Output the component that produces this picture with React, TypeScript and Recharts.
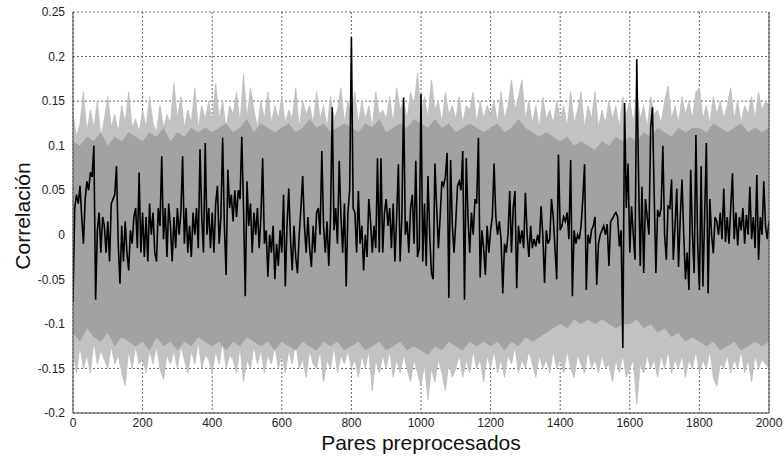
import React from "react";
import {
  ComposedChart,
  Area,
  Line,
  XAxis,
  YAxis,
  CartesianGrid,
  ReferenceLine,
} from "recharts";

// black trace, one value every 5 pairs (0..2000)
const blackSeries: number[] = [
  -0.075, 0.03, 0.045, 0.035, 0.055, 0.02, -0.01, 0.04, 0.06, 0.05, 0.07, 0.065, 0.1, -0.073, 0.005, 0.025, -0.02, 0.02, 0.01, -0.02,
  0.015, -0.03, 0.035, 0.04, 0.045, 0.077, -0.01, -0.055, 0.01, -0.03, 0.015, -0.02, -0.04, 0.005, -0.01, 0.02, 0.03, -0.015, 0.07, -0.02,
  0.025, -0.025, 0.02, -0.03, 0.035, 0.0, 0.025, -0.02, -0.03, 0.03, 0.01, 0.088, -0.005, 0.03, -0.025, 0.035, 0.01, -0.03, 0.02, -0.015,
  0.03, 0.0, 0.025, 0.088, -0.01, 0.03, -0.02, 0.01, -0.025, 0.025, 0.0, 0.03, -0.015, 0.096, 0.02, -0.02, 0.103, 0.0, 0.03, -0.015,
  0.025, -0.02, 0.035, 0.055, -0.01, 0.02, 0.109, 0.01, -0.045, 0.073, 0.03, 0.045, 0.015, 0.05, 0.02, 0.05, 0.04, 0.11, 0.03, -0.069,
  0.06, 0.01, 0.035, -0.02, 0.025, 0.0, 0.03, -0.015, 0.02, 0.086, -0.01, 0.005, -0.047, 0.0, -0.02, 0.01, -0.05, -0.01, -0.035, 0.005,
  -0.02, 0.045, -0.058, 0.01, 0.052, -0.005, -0.04, 0.01, -0.025, -0.043, 0.0, 0.03, 0.066, 0.01, -0.02, 0.02, -0.015, -0.036, 0.01, -0.02,
  0.025, 0.03, 0.0, 0.094, 0.01, -0.02, 0.015, -0.035, 0.02, 0.143, 0.005, 0.03, -0.01, 0.083, 0.02, -0.02, 0.035, -0.058, 0.025, 0.05,
  0.222, 0.03, 0.025, -0.02, 0.049, -0.01, 0.01, -0.04, 0.0, -0.025, 0.04, 0.015, -0.02, 0.01, -0.015, 0.086, -0.02, 0.086, -0.02, 0.025,
  0.04, 0.01, 0.03, -0.015, 0.035, -0.03, 0.02, 0.079, -0.03, 0.02, 0.154, 0.0, 0.015, -0.02, 0.03, 0.045, -0.01, 0.083, -0.025, -0.015,
  0.158, -0.03, 0.035, -0.035, 0.066, 0.0, -0.043, -0.05, 0.08, 0.03, -0.015, 0.02, 0.06, 0.055, 0.065, 0.092, -0.071, 0.084, 0.01, -0.02,
  0.015, 0.055, 0.06, 0.05, 0.094, -0.073, 0.086, 0.02, -0.02, 0.025, 0.0, 0.04, 0.035, 0.109, -0.048, 0.005, -0.015, -0.045, 0.01, -0.02,
  0.005, 0.02, 0.08, 0.02, 0.0, 0.015, -0.005, -0.066, -0.01, -0.02, 0.0, 0.049, -0.02, 0.03, 0.049, -0.06, 0.01, -0.01, 0.005, -0.015,
  0.047, 0.0, -0.025, 0.01, -0.015, -0.005, -0.013, 0.0, -0.01, 0.032, 0.0, -0.054, 0.005, -0.01, -0.005, 0.04, 0.02, -0.015, -0.05, 0.09,
  0.005, 0.01, 0.02, 0.015, 0.025, -0.005, 0.084, -0.069, 0.005, -0.01, 0.0, -0.005, 0.01, 0.04, 0.079, -0.062, 0.0, -0.01, 0.005, 0.01,
  0.02, -0.056, -0.01, 0.0, 0.005, 0.01, 0.0, 0.012, -0.035, 0.015, 0.018, 0.022, 0.025, 0.02, -0.013, 0.005, -0.127, 0.148, 0.03, 0.08,
  -0.02, 0.032, 0.0, -0.028, 0.197, 0.069, -0.035, 0.054, -0.043, 0.04, 0.02, 0.0, 0.12, 0.143, 0.047, -0.043, 0.028, 0.02, 0.03, 0.1,
  0.0, -0.028, 0.032, 0.03, 0.062, -0.028, 0.01, 0.052, -0.036, 0.02, 0.062, 0.0, -0.05, -0.02, -0.062, 0.073, 0.0, -0.043, 0.112, -0.01,
  -0.062, 0.077, -0.058, 0.02, 0.103, -0.066, 0.04, 0.0, -0.021, 0.02, 0.015, 0.0, 0.025, -0.005, 0.052, -0.008, 0.02, -0.01, 0.03, 0.069,
  -0.005, 0.025, -0.012, 0.02, 0.005, 0.03, -0.01, 0.022, 0.0, 0.054, -0.005, 0.02, -0.015, 0.067, -0.028, 0.02, 0.0, 0.06, 0.01, -0.005,
  0.015,
];

// outer (spiky) edges of the grey bundle, every 10 pairs
const envHigh: number[] = [
  0.135, 0.11, 0.125, 0.16, 0.115, 0.14, 0.12, 0.15, 0.11, 0.13,
  0.155, 0.12, 0.135, 0.115, 0.145, 0.125, 0.16, 0.12, 0.13, 0.115,
  0.14, 0.12, 0.155, 0.125, 0.115, 0.145, 0.12, 0.135, 0.125, 0.17,
  0.13, 0.155, 0.12, 0.14, 0.125, 0.165, 0.12, 0.145, 0.13, 0.15,
  0.125, 0.17, 0.13, 0.15, 0.12, 0.145, 0.135, 0.16, 0.125, 0.18,
  0.13, 0.165, 0.14, 0.12, 0.15, 0.13, 0.16, 0.125, 0.145, 0.13,
  0.155, 0.125, 0.14, 0.13, 0.165, 0.12, 0.15, 0.135, 0.145, 0.125,
  0.16, 0.13, 0.145, 0.12, 0.155, 0.13, 0.14, 0.165, 0.125, 0.15,
  0.135, 0.16, 0.125, 0.15, 0.13, 0.145, 0.12, 0.16, 0.135, 0.14,
  0.13, 0.155, 0.125, 0.165, 0.14, 0.15, 0.13, 0.16, 0.145, 0.182,
  0.135, 0.155, 0.13, 0.174, 0.14, 0.15, 0.125, 0.16, 0.135, 0.145,
  0.13, 0.155, 0.125, 0.145, 0.14, 0.16, 0.125, 0.15, 0.13, 0.145,
  0.135, 0.15, 0.125, 0.16, 0.13, 0.145, 0.174, 0.14, 0.155, 0.174,
  0.13, 0.15, 0.125, 0.145, 0.12, 0.155, 0.13, 0.14, 0.125, 0.15,
  0.13, 0.145, 0.12, 0.161, 0.125, 0.14, 0.16, 0.12, 0.145, 0.13,
  0.16, 0.12, 0.14, 0.125, 0.15, 0.13, 0.145, 0.12, 0.155, 0.135,
  0.15, 0.125, 0.16, 0.13, 0.145, 0.12, 0.155, 0.135, 0.14, 0.125,
  0.15, 0.167, 0.13, 0.145, 0.125, 0.155, 0.135, 0.15, 0.13, 0.16,
  0.165, 0.13, 0.145, 0.125, 0.155, 0.135, 0.15, 0.13, 0.145, 0.165,
  0.13, 0.15, 0.125, 0.145, 0.135, 0.155, 0.13, 0.16, 0.14, 0.15,
  0.145,
];

const envLow: number[] = [
  -0.13, -0.155, -0.125, -0.15, -0.135, -0.155, -0.12, -0.145, -0.13, -0.14,
  -0.15, -0.125, -0.145, -0.135, -0.155, -0.169, -0.13, -0.15, -0.125, -0.145,
  -0.14, -0.155, -0.13, -0.145, -0.125, -0.15, -0.162, -0.135, -0.145, -0.13,
  -0.15, -0.125, -0.14, -0.155, -0.13, -0.145, -0.12, -0.15, -0.135, -0.14,
  -0.155, -0.13, -0.145, -0.12, -0.15, -0.135, -0.14, -0.155, -0.125, -0.165,
  -0.14, -0.15, -0.125, -0.145, -0.13, -0.155, -0.135, -0.145, -0.125, -0.15,
  -0.135, -0.155, -0.13, -0.145, -0.12, -0.15, -0.14, -0.16, -0.13, -0.145,
  -0.15, -0.13, -0.165, -0.14, -0.15, -0.125, -0.155, -0.135, -0.145, -0.13,
  -0.15, -0.14, -0.16, -0.135, -0.15, -0.13, -0.175, -0.14, -0.155, -0.135,
  -0.15, -0.13, -0.16, -0.14, -0.155, -0.135, -0.15, -0.165, -0.14, -0.155,
  -0.17, -0.145, -0.185, -0.15, -0.165, -0.14, -0.155, -0.175, -0.145, -0.16,
  -0.15, -0.135, -0.16, -0.14, -0.155, -0.13, -0.15, -0.14, -0.165, -0.135,
  -0.15, -0.13, -0.155, -0.14, -0.16, -0.135, -0.145, -0.125, -0.155, -0.14,
  -0.15, -0.13, -0.145, -0.16, -0.135, -0.15, -0.14, -0.155, -0.13, -0.15,
  -0.14, -0.155, -0.13, -0.15, -0.16, -0.135, -0.145, -0.155, -0.13, -0.15,
  -0.14, -0.155, -0.135, -0.15, -0.145, -0.165, -0.14, -0.155, -0.135, -0.16,
  -0.15, -0.14, -0.19, -0.145, -0.155, -0.135, -0.15, -0.14, -0.16, -0.135,
  -0.15, -0.13, -0.155, -0.14, -0.15, -0.135, -0.16, -0.14, -0.15, -0.13,
  -0.155, -0.14, -0.15, -0.13, -0.16, -0.17, -0.145, -0.15, -0.135, -0.155,
  -0.14, -0.15, -0.13, -0.155, -0.14, -0.165, -0.135, -0.15, -0.14, -0.145,
  -0.15,
];

// dense core of the grey bundle, every 20 pairs
const coreHigh: number[] = [
  0.105, 0.1, 0.11, 0.105, 0.115, 0.1, 0.11, 0.105, 0.115, 0.11,
  0.105, 0.115, 0.11, 0.12, 0.105, 0.115, 0.11, 0.12, 0.115, 0.12,
  0.115, 0.12, 0.125, 0.115, 0.12, 0.13, 0.115, 0.125, 0.12, 0.115,
  0.12, 0.125, 0.115, 0.12, 0.13, 0.12, 0.125, 0.115, 0.12, 0.125,
  0.12, 0.115, 0.125, 0.12, 0.13, 0.115, 0.12, 0.125, 0.12, 0.13,
  0.125, 0.12, 0.13, 0.12, 0.125, 0.115, 0.12, 0.125, 0.12, 0.115,
  0.12, 0.125, 0.115, 0.12, 0.13, 0.12, 0.115, 0.11, 0.115, 0.11,
  0.105, 0.11, 0.1, 0.105, 0.1, 0.095, 0.105, 0.1, 0.11, 0.105,
  0.11, 0.105, 0.115, 0.11, 0.12, 0.115, 0.11, 0.12, 0.115, 0.12,
  0.12, 0.115, 0.125, 0.12, 0.115, 0.12, 0.125, 0.115, 0.12, 0.115,
  0.12,
];

const coreLow: number[] = [
  -0.11, -0.12, -0.105, -0.115, -0.12, -0.11, -0.125, -0.115, -0.12, -0.125,
  -0.12, -0.13, -0.115, -0.125, -0.12, -0.13, -0.12, -0.125, -0.115, -0.12,
  -0.125, -0.12, -0.13, -0.12, -0.125, -0.115, -0.12, -0.125, -0.12, -0.13,
  -0.12, -0.125, -0.13, -0.12, -0.125, -0.13, -0.12, -0.125, -0.12, -0.13,
  -0.125, -0.12, -0.13, -0.125, -0.12, -0.13, -0.125, -0.12, -0.13, -0.125,
  -0.13, -0.135, -0.125, -0.13, -0.12, -0.125, -0.13, -0.12, -0.125, -0.12,
  -0.125, -0.12, -0.13, -0.12, -0.125, -0.115, -0.12, -0.115, -0.11, -0.105,
  -0.1, -0.105, -0.095, -0.1, -0.095, -0.1, -0.095, -0.1, -0.105, -0.1,
  -0.1, -0.095, -0.105, -0.1, -0.11, -0.105, -0.115, -0.11, -0.12, -0.115,
  -0.12, -0.125, -0.12, -0.13, -0.125, -0.12, -0.13, -0.125, -0.12, -0.125,
  -0.12,
];

const xTicks = [0, 200, 400, 600, 800, 1000, 1200, 1400, 1600, 1800, 2000];
const yTicks = [-0.2, -0.15, -0.1, -0.05, 0, 0.05, 0.1, 0.15, 0.2, 0.25];

const blackData = blackSeries.map((v, i) => ({ x: i * 5, v }));
const envData = envHigh.map((h, i) => ({ x: i * 10, r: [envLow[i], h] }));
const coreData = coreHigh.map((h, i) => ({ x: i * 20, r: [coreLow[i], h] }));

const font = '"Liberation Sans", Arial, sans-serif';

export default function App() {
  return (
    <div style={{ position: "absolute", left: 0, top: 0, width: 784, height: 457, background: "#fff" }}>
      <ComposedChart
        width={784}
        height={457}
        margin={{ top: 12, right: 15, bottom: 0, left: 0 }}
      >
        <CartesianGrid stroke="#666" strokeDasharray="2 2" strokeWidth={1} />
        <XAxis
          dataKey="x"
          type="number"
          domain={[0, 2000]}
          ticks={xTicks}
          height={44}
          allowDataOverflow
          axisLine={{ stroke: "#444" }}
          tickLine={false}
          tickSize={3}
          tick={{ fontSize: 12, fill: "#222", fontFamily: font }}
        />
        <YAxis
          type="number"
          domain={[-0.2, 0.25]}
          ticks={yTicks}
          width={73}
          allowDataOverflow
          axisLine={{ stroke: "#444" }}
          tickLine={false}
          tick={{ fontSize: 12, fill: "#222", fontFamily: font }}
        />
        <Area
          data={envData}
          dataKey="r"
          type="linear"
          stroke="#bdbdbd"
          strokeWidth={0.8}
          fill="#c2c2c2"
          fillOpacity={1}
          isAnimationActive={false}
        />
        <Area
          data={coreData}
          dataKey="r"
          type="linear"
          stroke="none"
          fill="#a2a2a2"
          fillOpacity={1}
          isAnimationActive={false}
        />
        <Line
          data={blackData}
          dataKey="v"
          type="linear"
          stroke="#000"
          strokeWidth={1.6}
          dot={false}
          isAnimationActive={false}
        />
        <ReferenceLine x={2000} stroke="#444" />
      </ComposedChart>
      <div
        style={{
          position: "absolute",
          left: 22,
          top: 216,
          transform: "translate(-50%, -50%) rotate(-90deg)",
          fontFamily: font,
          fontSize: 21,
          lineHeight: 1,
          color: "#111",
          whiteSpace: "nowrap",
        }}
      >
        Correlación
      </div>
      <div
        style={{
          position: "absolute",
          left: 421,
          top: 442,
          transform: "translate(-50%, -50%)",
          fontFamily: font,
          fontSize: 21,
          lineHeight: 1,
          color: "#111",
          whiteSpace: "nowrap",
        }}
      >
        Pares preprocesados
      </div>
    </div>
  );
}
